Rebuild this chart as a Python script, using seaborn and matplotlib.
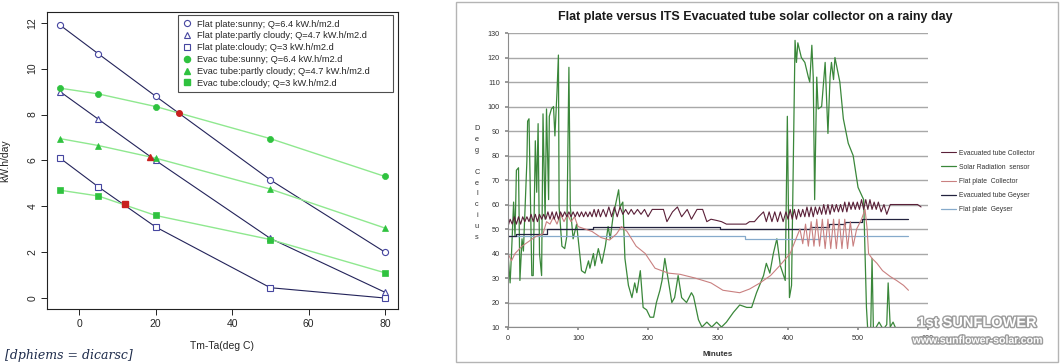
import matplotlib
matplotlib.use("Agg")
import matplotlib.pyplot as plt
import matplotlib.patheffects as pe
from matplotlib.lines import Line2D
from matplotlib.patches import Rectangle
import seaborn as sns

# ---------------- left chart: collector output vs Tm-Ta ----------------
dt = [-5, 5, 20, 50, 80]
flat_sunny = [11.9, 10.65, 8.8, 5.15, 2.0]
flat_partly = [9.0, 7.8, 6.0, 2.6, 0.25]
flat_cloudy = [6.1, 4.85, 3.1, 0.45, 0.0]
evac_sunny = [9.15, 8.9, 8.35, 6.95, 5.3]
evac_partly = [6.95, 6.65, 6.1, 4.75, 3.05]
evac_cloudy = [4.7, 4.45, 3.6, 2.55, 1.1]
cross_x = [26, 18.5, 12]
cross_y = [8.05, 6.15, 4.1]
left_labels = [
    "Flat plate:sunny; Q=6.4 kW.h/m2.d",
    "Flat plate:partly cloudy; Q=4.7 kW.h/m2.d",
    "Flat plate:cloudy; Q=3 kW.h/m2.d",
    "Evac tube:sunny; Q=6.4 kW.h/m2.d",
    "Evac tube:partly cloudy; Q=4.7 kW.h/m2.d",
    "Evac tube:cloudy; Q=3 kW.h/m2.d",
]

# ---------------- right chart: rainy day temperatures ----------------
evac_coll_min = [0, 3, 6, 9, 12, 15, 18, 21, 24, 27, 30, 33, 36, 39, 42, 45, 48, 51, 54, 57,
                 60, 63, 66, 69, 72, 75, 78, 81, 84, 87, 90, 93, 96, 99, 102, 105, 108, 111, 114, 117,
                 120, 123, 126, 129, 132, 136, 140, 144, 148, 152, 156, 160, 164, 168, 172, 176, 180, 185, 190, 195,
                 200, 206, 215, 222, 227, 235, 242, 248, 256, 262, 270, 278, 284, 290, 298, 305, 312, 320, 340, 345,
                 352, 358, 365, 369, 373, 377, 381, 385, 389, 393, 397, 400, 403, 406, 409, 412, 415, 418, 421, 424,
                 427, 430, 433, 436, 439, 442, 445, 448, 451, 454, 457, 460, 463, 466, 469, 472, 475, 478, 481, 484,
                 487, 490, 493, 496, 499, 502, 505, 508, 511, 514, 517, 520, 523, 526, 529, 533, 537, 541, 546, 555,
                 570, 585, 590]
evac_coll_val = [51, 54, 52, 55, 52, 55, 52, 55, 53, 55, 53, 56, 53, 56, 53, 56, 54, 56, 54, 57,
                 54, 57, 54, 57, 54, 57, 55, 57, 55, 57, 55, 57, 55, 57, 55, 57, 55, 57, 55, 57,
                 55, 58, 55, 58, 55, 58, 55, 59, 55, 59, 55, 59, 56, 58, 56, 58, 56, 58, 56, 58,
                 55, 58, 58, 58, 53, 57, 59, 55, 58, 54, 58, 58, 53, 54, 53.5, 53, 52, 52, 52, 53,
                 53, 55, 57, 53, 57, 53, 57, 53, 57, 53, 57, 54, 58, 54, 58, 54, 58, 55, 58, 55,
                 59, 55, 59, 55, 59, 56, 59, 56, 60, 56, 60, 56, 60, 57, 60, 57, 60, 57, 61, 57,
                 61, 58, 61, 58, 61, 58, 62, 58, 62, 58, 62, 58, 61, 58, 61, 57, 60, 56, 60, 60,
                 60, 60, 59]

solar_min = [0, 3, 5, 8, 10, 12, 15, 17, 20, 22, 27, 28, 30, 34, 36, 39, 41, 43, 45, 48,
             50, 53, 55, 58, 59, 62, 65, 67, 70, 72, 73, 77, 81, 84, 87, 89, 93, 98, 105, 110,
             115, 117, 122, 124, 129, 134, 139, 143, 146, 150, 158, 160, 164, 167, 172, 177, 181, 184, 189, 193,
             198, 203, 208, 212, 217, 220, 224, 229, 234, 238, 243, 248, 255, 262, 265, 272, 277, 284, 291, 298,
             305, 312, 322, 331, 341, 348, 355, 365, 369, 374, 379, 384, 389, 396, 399, 402, 405, 410, 412, 414,
             419, 424, 429, 431, 434, 436, 438, 441, 443, 448, 453, 457, 460, 462, 465, 467, 474, 479, 486, 493,
             500, 508, 512, 514, 518, 520, 522, 530, 536, 541, 543, 546, 550, 556]
solar_val = [40, 28, 40, 61, 47, 74, 75, 29, 46, 41, 78, 94, 95, 31, 31, 86, 65, 93, 40, 31,
             97, 54, 99, 62, 96, 99, 100, 88, 106, 121, 59, 43, 42, 47, 116, 59, 46, 52, 33, 32,
             37, 34, 40, 35, 42, 36, 43, 51, 46, 55, 66, 59, 61, 38, 27, 22, 28, 24, 33, 18,
             17, 14, 14, 20, 25, 29, 38, 29, 20, 22, 31, 22, 20, 24, 22.5, 13, 10, 12, 10, 12,
             10, 12, 16, 19, 18, 18, 24, 31, 36, 32, 40, 46, 35, 29, 96, 22, 27, 127, 118, 126,
             120, 118, 112, 110, 125, 112, 62, 112, 99, 100, 118, 89, 112, 118, 111, 120, 110, 95, 85, 80,
             67, 62, 18, 8, 8, 38, 8, 12, 9, 11, 28, 10, 12, 8]

flat_coll_min = [0, 5, 10, 20, 30, 40, 50, 55, 60, 65, 70, 75, 80, 85, 90, 95, 100, 110, 120, 133,
                 145, 155, 162, 170, 183, 196, 210, 229, 246, 267, 290, 307, 331, 345, 360, 375, 388, 403, 410, 417,
                 421, 425, 429, 433, 437, 441, 445, 449, 453, 457, 461, 465, 469, 473, 477, 481, 485, 489, 493, 498,
                 505, 510, 513, 515, 520, 527, 535, 546, 555, 565, 572]
flat_coll_val = [40, 37, 40, 43, 45, 47, 48, 53, 52, 55, 52, 56, 53, 56, 53, 55, 51, 50, 49, 46.5,
                 45.5, 48, 51, 49, 43, 40, 34, 32, 31.5, 30, 28, 25, 24, 25.5, 28, 31, 35, 40, 45, 50,
                 44, 52, 43, 53, 43, 54, 43, 54, 42, 54, 42, 54, 42, 54, 42, 54, 42, 53, 43, 50,
                 54, 58, 50, 40, 38, 36, 33, 30.6, 29, 27, 25]

evac_gey_min = [0, 12, 12, 55, 55, 122, 122, 303, 303, 431, 431, 458, 458, 482, 482, 505, 505, 572]
evac_gey_val = [47, 47, 48, 48, 50, 50, 51, 51, 50, 50, 51, 51, 52, 52, 53, 53, 54, 54]

flat_gey_min = [0, 339, 339, 445, 445, 572]
flat_gey_val = [47, 47, 46, 46, 47, 47]

right_labels = ["Evacuated tube Collector", "Solar Radiation  sensor", "Flat plate  Collector",
                "Evacuated tube Geyser", "Flat plate  Geyser"]

sns.set_theme(style="white")
plt.rcParams["font.family"] = ["Liberation Sans", "DejaVu Sans"]

fig = plt.figure(figsize=(10.61, 3.64), dpi=100)

# ---- left panel (R base graphics look) ----
ax1 = fig.add_axes([0.0443, 0.151, 0.3308, 0.816])
navy = "#23235a"
blue_mk = "#4646a0"
green_ln = "#8fe88f"
green_mk = "#2fc23f"

flat_series = [flat_sunny, flat_partly, flat_cloudy]
evac_series = [evac_sunny, evac_partly, evac_cloudy]
shapes = ["o", "^", "s"]
for vals, mk in zip(flat_series, shapes):
    sns.lineplot(x=dt, y=vals, ax=ax1, color=navy, linewidth=0.8, marker=mk,
                 markersize=4.4, markerfacecolor="white", markeredgecolor=blue_mk,
                 markeredgewidth=0.8, estimator=None, sort=False)
for vals, mk in zip(evac_series, shapes):
    sns.lineplot(x=dt, y=vals, ax=ax1, color=green_ln, linewidth=1.0, marker=mk,
                 markersize=4.4, markerfacecolor=green_mk, markeredgecolor=green_mk,
                 markeredgewidth=0.5, estimator=None, sort=False)
for cx, cy, mk in zip(cross_x, cross_y, shapes):
    ax1.plot(cx, cy, marker=mk, markersize=4, color="#c8201e", linestyle="none")

ax1.set_xlim(-8.4, 83.4)
ax1.set_ylim(-0.48, 12.47)
ax1.set_xticks([0, 20, 40, 60, 80])
ax1.set_yticks([0, 2, 4, 6, 8, 10, 12])
ax1.tick_params(axis="both", direction="out", length=4, width=0.7, labelsize=7.5,
                color="#222222", left=True, bottom=True, pad=3)
for lbl in ax1.get_yticklabels():
    lbl.set_rotation(90)
    lbl.set_va("center")
for sp in ax1.spines.values():
    sp.set_color("#222222")
    sp.set_linewidth(0.8)
ax1.set_xlabel("Tm-Ta(deg C)", fontsize=7.5, labelpad=9)
ax1.set_ylabel("kW.h/day", fontsize=7.5, labelpad=12)

handles = []
for mk in shapes:
    handles.append(Line2D([], [], linestyle="none", marker=mk, markersize=4.4,
                          markerfacecolor="white", markeredgecolor=blue_mk, markeredgewidth=0.8))
for mk in shapes:
    handles.append(Line2D([], [], linestyle="none", marker=mk, markersize=4.4,
                          markerfacecolor=green_mk, markeredgecolor=green_mk))
# R-style legend box: wider than its text, so expand it over the measured box
leg1 = ax1.legend(handles, left_labels, loc="upper left", mode="expand",
                  bbox_to_anchor=(0.373, 0.714, 0.6125, 0.276),
                  borderaxespad=0, fontsize=6.7, frameon=True, fancybox=False,
                  handlelength=1.0, handletextpad=0.6, labelspacing=0.3, borderpad=0.5)
leg1.get_frame().set_edgecolor("#222222")
leg1.get_frame().set_linewidth(0.8)

fig.text(0.005, 0.022, "[dphiems = dicarsc]", fontsize=9, style="italic",
         family="DejaVu Serif", color="#1c2a4a", va="center")

# ---- right panel (Excel look) ----
fig.patches.append(Rectangle((0.4298, 0.0055), 0.567, 0.989, transform=fig.transFigure,
                             fill=False, edgecolor="#b4b4b4", linewidth=1.0))

ax2 = fig.add_axes([0.4788, 0.1016, 0.3959, 0.8077])
c_evac_coll = "#5a2038"
c_solar = "#3a873a"
c_flat_coll = "#c98080"
c_evac_gey = "#22223e"
c_flat_gey = "#86aacb"

sns.lineplot(x=solar_min, y=solar_val, ax=ax2, color=c_solar, linewidth=0.9,
             estimator=None, sort=False, label=right_labels[1])
sns.lineplot(x=flat_gey_min, y=flat_gey_val, ax=ax2, color=c_flat_gey, linewidth=0.9,
             estimator=None, sort=False, label=right_labels[4])
sns.lineplot(x=evac_gey_min, y=evac_gey_val, ax=ax2, color=c_evac_gey, linewidth=0.9,
             estimator=None, sort=False, label=right_labels[3])
sns.lineplot(x=flat_coll_min, y=flat_coll_val, ax=ax2, color=c_flat_coll, linewidth=0.8,
             estimator=None, sort=False, label=right_labels[2])
sns.lineplot(x=evac_coll_min, y=evac_coll_val, ax=ax2, color=c_evac_coll, linewidth=0.8,
             estimator=None, sort=False, label=right_labels[0])

ax2.set_xlim(0, 600)
ax2.set_ylim(10, 130)
ax2.set_xticks(range(0, 601, 100))
ax2.set_yticks(range(10, 131, 10))
ax2.yaxis.grid(True, color="#a8a8a8", linewidth=1.0)
ax2.set_axisbelow(True)
for side in ["top", "right"]:
    ax2.spines[side].set_visible(False)
for side in ["left", "bottom"]:
    ax2.spines[side].set_color("#8c8c8c")
    ax2.spines[side].set_linewidth(0.8)
ax2.tick_params(axis="both", labelsize=5.2, length=2, color="#8c8c8c", left=True,
                bottom=True, pad=4, labelcolor="#333333")
ax2.set_xlabel("Minutes", fontsize=5.8, labelpad=6, color="#333333", fontweight="semibold")
ax2.set_ylabel("")
fig.text(0.7116, 0.952, "Flat plate versus ITS Evacuated tube solar collector on a rainy day",
         fontsize=9.0, fontweight="semibold", ha="center", va="center", color="#1a1a1a")
fig.text(0.4495, 0.497, "D\ne\ng\n\nC\ne\nl\nc\ni\nu\ns", fontsize=5.3, ha="center",
         va="center", linespacing=1.78, color="#333333")

h, l = ax2.get_legend_handles_labels()
order = [l.index(name) for name in right_labels]
leg2 = ax2.legend([h[i] for i in order], [l[i] for i in order], loc="center left",
                  bbox_to_anchor=(1.025, 0.495), frameon=False, fontsize=4.9,
                  handlelength=2.2, handletextpad=0.4, labelspacing=1.05, borderaxespad=0)
for txt in leg2.get_texts():
    txt.set_color("#333333")

# watermark
stroke = [pe.withStroke(linewidth=2.0, foreground="#9c9c9c")]
fig.text(0.921, 0.113, "1st SUNFLOWER", fontsize=10.5, fontweight="bold", color="white",
         ha="center", va="center", path_effects=stroke)
fig.text(0.921, 0.065, "www.sunflower-solar.com", fontsize=7.6, fontweight="bold",
         color="white", ha="center", va="center", path_effects=stroke)

fig.savefig("out.png", dpi=100)
